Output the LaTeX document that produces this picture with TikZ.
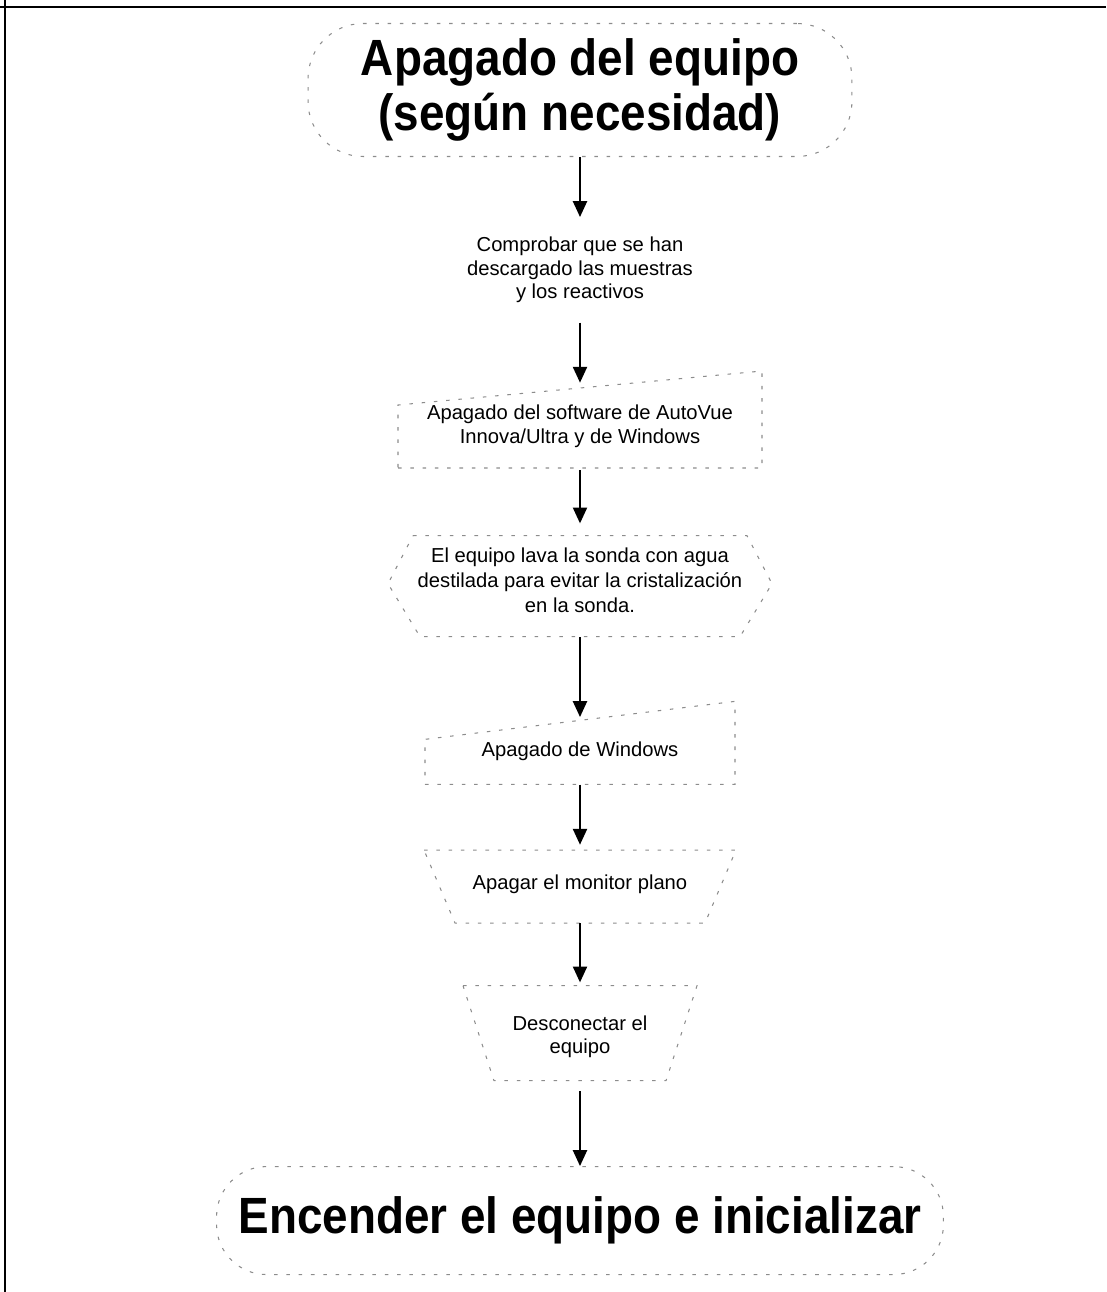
\documentclass[tikz,border=0pt]{standalone}
\usepackage{fontspec}
\setmainfont{Liberation Sans}
\newfontfamily\headfont{Liberation Sans}[FakeStretch=0.9]
\usetikzlibrary{positioning}
\usetikzlibrary{arrows.meta}
\tikzset{flowhead/.style={rectangle,draw=black!45,line width=0.6pt,dash pattern=on 2pt off 5pt,
rounded corners=1.1cm,inner sep=2pt,align=center,font={\headfont\bfseries\fontsize{29}{31.5}\selectfont}}}
\tikzset{flowstep/.style={rectangle,draw=none,inner sep=2pt,align=center,
font={\fontsize{11.5}{13.5}\selectfont}}}
\tikzset{flowline/.style={draw=black!45,line width=0.6pt,dash pattern=on 2pt off 5pt}}
\tikzset{flowarrow/.style={line width=1.1pt,-{Triangle[length=9pt,width=8pt]}}}

\begin{document}
\begin{tikzpicture}[x=0.02cm,y=-0.02cm]

        \useasboundingbox (0,0) rectangle (1106,1292);
        \draw[line width=1.6pt] (0,7) -- (1106,7);
        \draw[line width=1.6pt] (5,0) -- (5,1292);

        \node[flowhead,minimum width=10.88cm,minimum height=2.66cm] (boxTitle) at (580,90) {Apagado del equipo\\(según necesidad)};
        \node[flowstep,minimum height=2.1cm] (boxCheck) [below=1.2cm of boxTitle] {Comprobar que se han\\descargado las muestras\\y los reactivos};
        \node[flowstep,minimum height=1.74cm] (boxSoft) [below=1.2cm of boxCheck] {Apagado del software de AutoVue\\Innova/Ultra y de Windows};
        \node[flowstep,minimum height=2.26cm,font={\fontsize{11.5}{14}\selectfont}] (boxWash) [below=1.06cm of boxSoft] {El equipo lava la sonda con agua\\destilada para evitar la cristalización\\en la sonda.};
        \node[flowstep,minimum height=1.34cm] (boxWin) [below=1.6cm of boxWash] {Apagado de Windows};
        \node[flowstep,minimum height=1.56cm] (boxMon) [below=1.2cm of boxWin] {Apagar el monitor plano};
        \node[flowstep,minimum height=2.16cm] (boxUnplug) [below=1.18cm of boxMon] {Desconectar el\\equipo};
        \node[flowhead,minimum width=14.54cm,minimum height=2.16cm,rounded corners=1cm] (boxStart) [below=1.5cm of boxUnplug] {Encender el equipo e inicializar};

        \draw[flowline] ([shift={(-182,41.5)}]boxSoft.center) -- ([shift={(182,41.5)}]boxSoft.center)
            -- ([shift={(182,-55.5)}]boxSoft.center) -- ([shift={(-182,-21.5)}]boxSoft.center) -- cycle;
        \draw[flowline] ([shift={(-167,-44.5)}]boxWash.center) -- ([shift={(167,-44.5)}]boxWash.center)
            -- ([shift={(192,3.5)}]boxWash.center) -- ([shift={(160,56.5)}]boxWash.center)
            -- ([shift={(-160,56.5)}]boxWash.center) -- ([shift={(-192,3.5)}]boxWash.center) -- cycle;
        \draw[flowline] ([shift={(-155,33.5)}]boxWin.center) -- ([shift={(155,33.5)}]boxWin.center)
            -- ([shift={(155,-49.5)}]boxWin.center) -- ([shift={(-155,-11.5)}]boxWin.center) -- cycle;
        \draw[flowline] ([shift={(-156,-34)}]boxMon.center) -- ([shift={(156,-34)}]boxMon.center)
            -- ([shift={(125,39)}]boxMon.center) -- ([shift={(-125,39)}]boxMon.center) -- cycle;
        \draw[flowline] ([shift={(-117,-51)}]boxUnplug.center) -- ([shift={(117,-51)}]boxUnplug.center)
            -- ([shift={(86,44)}]boxUnplug.center) -- ([shift={(-86,44)}]boxUnplug.center) -- cycle;

        \draw[flowarrow] (boxTitle) -- (boxCheck);
        \draw[flowarrow] (boxCheck) -- (boxSoft);
        \draw[flowarrow] (boxSoft) -- (boxWash);
        \draw[flowarrow] (boxWash) -- (boxWin);
        \draw[flowarrow] (boxWin) -- (boxMon);
        \draw[flowarrow] (boxMon) -- (boxUnplug);
        \draw[flowarrow] (boxUnplug) -- (boxStart);

    \end{tikzpicture}
\end{document}
